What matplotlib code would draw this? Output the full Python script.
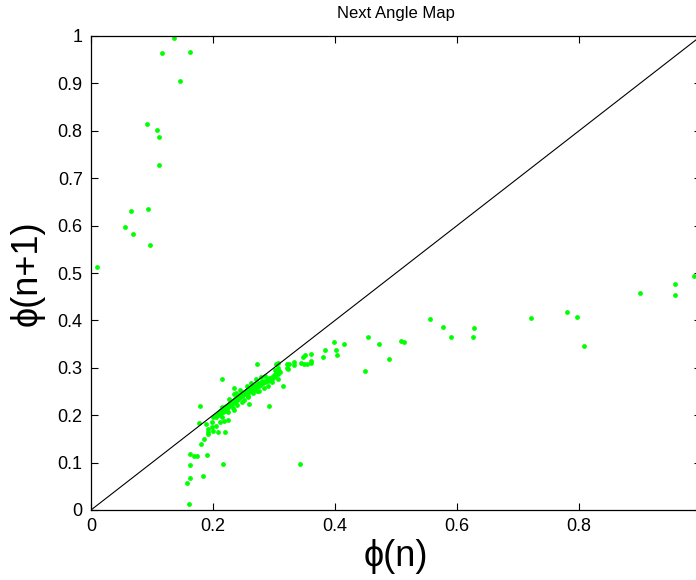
import matplotlib.pyplot as plt

plt.rcParams['font.family'] = ['Liberation Sans', 'DejaVu Sans']

# upper branch (small phi(n), large phi(n+1))
upper_x = [0.136, 0.116, 0.162, 0.146, 0.092, 0.109, 0.111, 0.111, 0.065, 0.093,
           0.055, 0.069, 0.096, 0.010]
upper_y = [0.995, 0.964, 0.966, 0.906, 0.815, 0.802, 0.787, 0.727, 0.631, 0.634,
           0.596, 0.582, 0.560, 0.513]

# lower tail below the cluster
tail_x = [0.179, 0.215, 0.291, 0.314, 0.342, 0.216, 0.160, 0.157, 0.163, 0.162,
          0.184, 0.163, 0.169, 0.174, 0.190, 0.180, 0.185, 0.192, 0.192, 0.191,
          0.189, 0.177, 0.200, 0.208, 0.220, 0.198, 0.198, 0.218, 0.234, 0.272,
          0.272, 0.257, 0.248, 0.259, 0.234, 0.307, 0.303]
tail_y = [0.219, 0.276, 0.220, 0.262, 0.098, 0.097, 0.013, 0.058, 0.068, 0.095,
          0.072, 0.119, 0.114, 0.114, 0.115, 0.139, 0.149, 0.165, 0.160, 0.170,
          0.181, 0.183, 0.167, 0.164, 0.165, 0.176, 0.185, 0.188, 0.211, 0.307,
          0.251, 0.239, 0.227, 0.223, 0.257, 0.276, 0.309]

# dense cluster along the diagonal
cluster_x = [0.200, 0.203, 0.205, 0.207, 0.209, 0.210, 0.212, 0.213, 0.215, 0.216,
             0.218, 0.219, 0.220, 0.221, 0.222, 0.223, 0.224, 0.225, 0.226, 0.227,
             0.228, 0.229, 0.230, 0.231, 0.232, 0.233, 0.234, 0.235, 0.236, 0.237,
             0.238, 0.239, 0.240, 0.241, 0.242, 0.243, 0.244, 0.245, 0.246, 0.247,
             0.248, 0.249, 0.250, 0.251, 0.252, 0.253, 0.254, 0.255, 0.256, 0.257,
             0.258, 0.259, 0.260, 0.261, 0.262, 0.263, 0.264, 0.265, 0.266, 0.267,
             0.268, 0.269, 0.270, 0.271, 0.272, 0.273, 0.274, 0.275, 0.276, 0.277,
             0.278, 0.279, 0.280, 0.282, 0.284, 0.286, 0.288, 0.290, 0.292, 0.294,
             0.296, 0.298, 0.300, 0.302, 0.304, 0.306, 0.308, 0.310,
             0.214, 0.226, 0.235, 0.245, 0.255, 0.262, 0.270, 0.278, 0.285, 0.215,
             0.225, 0.232, 0.240, 0.250, 0.258, 0.265, 0.275, 0.283, 0.290, 0.296,
             0.302, 0.307, 0.224, 0.212, 0.205, 0.238]
cluster_y = [0.196, 0.199, 0.197, 0.203, 0.205, 0.200, 0.208, 0.204, 0.211, 0.206,
             0.213, 0.209, 0.216, 0.211, 0.219, 0.214, 0.221, 0.217, 0.223, 0.219,
             0.226, 0.222, 0.228, 0.224, 0.230, 0.226, 0.232, 0.228, 0.234, 0.230,
             0.236, 0.232, 0.238, 0.234, 0.240, 0.236, 0.242, 0.238, 0.244, 0.240,
             0.246, 0.242, 0.248, 0.244, 0.250, 0.245, 0.251, 0.247, 0.253, 0.249,
             0.254, 0.250, 0.256, 0.252, 0.257, 0.253, 0.259, 0.255, 0.260, 0.256,
             0.262, 0.258, 0.263, 0.259, 0.265, 0.261, 0.266, 0.262, 0.268, 0.264,
             0.269, 0.265, 0.271, 0.267, 0.273, 0.270, 0.275, 0.272, 0.278, 0.275,
             0.281, 0.279, 0.285, 0.282, 0.290, 0.287, 0.293, 0.291,
             0.218, 0.235, 0.244, 0.253, 0.262, 0.268, 0.277, 0.281, 0.283, 0.196,
             0.207, 0.215, 0.222, 0.232, 0.240, 0.246, 0.252, 0.258, 0.262, 0.270,
             0.296, 0.300, 0.190, 0.186, 0.178, 0.247]

# right branch (large phi(n), phi(n+1) around 0.3-0.5)
right_x = [0.321, 0.325, 0.332, 0.322, 0.323, 0.332, 0.345, 0.347, 0.350, 0.354,
           0.361, 0.361, 0.361, 0.380, 0.383, 0.399, 0.401, 0.403, 0.414, 0.449,
           0.454, 0.472, 0.488, 0.508, 0.513, 0.555, 0.577, 0.590, 0.626, 0.628,
           0.722, 0.781, 0.796, 0.809, 0.900, 0.958, 0.958, 0.989, 0.349, 0.306]
right_y = [0.309, 0.308, 0.313, 0.299, 0.297, 0.306, 0.310, 0.323, 0.326, 0.309,
           0.329, 0.314, 0.311, 0.323, 0.337, 0.354, 0.337, 0.327, 0.351, 0.294,
           0.366, 0.350, 0.318, 0.357, 0.355, 0.403, 0.387, 0.364, 0.365, 0.384,
           0.405, 0.418, 0.408, 0.346, 0.458, 0.476, 0.453, 0.493, 0.309, 0.310]

phi_n = upper_x + tail_x + cluster_x + right_x
phi_next = upper_y + tail_y + cluster_y + right_y

fig = plt.figure(figsize=(6.96, 5.8), dpi=100)
# axes run past the right edge of the figure, as in the original export
ax = fig.add_axes([91 / 696, 70 / 580, 610 / 696, 474 / 580])

ax.scatter(phi_n, phi_next, s=12, color='#00ff00', linewidths=0, zorder=2)
ax.plot([0, 1], [0, 1], color='black', linewidth=0.8, zorder=3)

ax.set_xlim(0, 1)
ax.set_ylim(0, 1)
ax.set_xticks([0, 0.2, 0.4, 0.6, 0.8, 1])
ax.set_xticklabels(['0', '0.2', '0.4', '0.6', '0.8', '1'])
ax.set_yticks([0, 0.1, 0.2, 0.3, 0.4, 0.5, 0.6, 0.7, 0.8, 0.9, 1])
ax.set_yticklabels(['0', '0.1', '0.2', '0.3', '0.4', '0.5', '0.6', '0.7', '0.8', '0.9', '1'])
ax.tick_params(direction='in', top=True, right=True, length=5, width=0.8,
               labelsize=13, pad=6)
for s in ax.spines.values():
    s.set_linewidth(0.9)

ax.set_title('Next Angle Map', fontsize=12, pad=13)
ax.set_xlabel('\u03d5(n)', fontsize=26, labelpad=3)
ax.set_ylabel('\u03d5(n+1)', fontsize=26, labelpad=9)

fig.savefig('out.png', dpi=100)
